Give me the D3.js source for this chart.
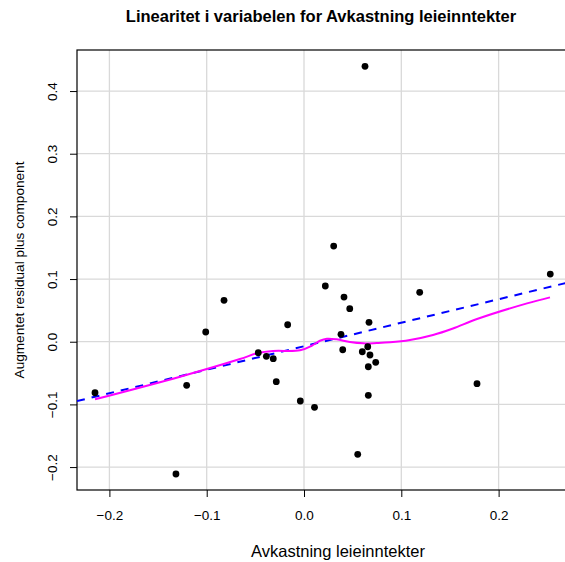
<!DOCTYPE html>
<html>
<head>
<meta charset="utf-8">
<script src="https://cdn.jsdelivr.net/npm/d3@7"></script>
<style>
  body { margin: 0; background: #fff; }
  svg { display: block; font-family: "Liberation Sans", Arial, sans-serif; }
</style>
</head>
<body>
<div id="chart"></div>
<script>
// observed points (Avkastning leieinntekter vs. augmented residual + component)
var pointX = [-0.2148, -0.1316, -0.1206, -0.1010, -0.0822, -0.0470, -0.0387, -0.0316, -0.0285, -0.0168,
              -0.0038, 0.0108, 0.0219, 0.0305, 0.0627, 0.0380, 0.0398, 0.0411, 0.0470, 0.0599,
              0.0655, 0.0678, 0.0737, 0.0661, 0.0668, 0.0661, 0.0552, 0.1189, 0.1778, 0.2531];
var pointY = [-0.0814, -0.2111, -0.0696, 0.0155, 0.0661, -0.0176, -0.0233, -0.0271, -0.0638, 0.0271,
              -0.0946, -0.1047, 0.0889, 0.1527, 0.4394, 0.0118, -0.0128, 0.0713, 0.0527, -0.0160,
              -0.0080, -0.0212, -0.0329, -0.0399, 0.0310, -0.0855, -0.1797, 0.0788, -0.0670, 0.1080];

// linear fit (blue dashed)
var fitIntercept = -0.0072;
var fitSlope = 0.375;

// smoother (magenta)
var smoothX = [-0.2148, -0.1274, -0.0658, -0.0473, -0.0319, -0.0041, 0.0079, 0.0164, 0.0236, 0.0336,
               0.0473, 0.0609, 0.0747, 0.0884, 0.1089, 0.1326, 0.1531, 0.1778, 0.2292, 0.2528];
var smoothY = [-0.0919, -0.0558, -0.0276, -0.0180, -0.0148, -0.0137, -0.0064, 0.0016, 0.0048, 0.0038,
               -0.0005, -0.0026, -0.0021, -0.0010, 0.0027, 0.0107, 0.0211, 0.0362, 0.0612, 0.0708];

var xTicks = [-0.2, -0.1, 0.0, 0.1, 0.2];
var yTicks = [-0.2, -0.1, 0.0, 0.1, 0.2, 0.3, 0.4];

var svgWidth = 565;
var svgHeight = 562;
var plot = { left: 77, top: 50, right: 600, bottom: 490 };

var svg = d3.select("#chart")
            .append("svg")
            .attr("width", svgWidth)
            .attr("height", svgHeight);

var xScale = d3.scaleLinear()
    .domain([-0.2333, 0.3042])
    .range([plot.left, plot.right]);

var yScale = d3.scaleLinear()
    .domain([-0.2366, 0.4655])
    .range([plot.bottom, plot.top]);

svg.append("clipPath")
    .attr("id", "plotClip")
    .append("rect")
    .attr("x", plot.left)
    .attr("y", plot.top)
    .attr("width", plot.right - plot.left)
    .attr("height", plot.bottom - plot.top);

// grid
var grid = svg.append("g").attr("clip-path", "url(#plotClip)");
grid.selectAll(".vgrid")
    .data(xTicks)
    .enter()
    .append("line")
    .attr("x1", d => xScale(d)).attr("x2", d => xScale(d))
    .attr("y1", plot.top).attr("y2", plot.bottom)
    .attr("stroke", "#d9d9d9")
    .attr("stroke-width", 1.3);
grid.selectAll(".hgrid")
    .data(yTicks)
    .enter()
    .append("line")
    .attr("x1", plot.left).attr("x2", plot.right)
    .attr("y1", d => yScale(d)).attr("y2", d => yScale(d))
    .attr("stroke", "#d9d9d9")
    .attr("stroke-width", 1.3);

// box
svg.append("rect")
    .attr("x", plot.left)
    .attr("y", plot.top)
    .attr("width", plot.right - plot.left)
    .attr("height", plot.bottom - plot.top)
    .attr("fill", "none")
    .attr("stroke", "#000")
    .attr("stroke-width", 1.2);

// axes
var fmt = d => d3.format(".1f")(d).replace("-", "\u2013");

var bottomAxis = d3.axisBottom(xScale)
    .tickValues(xTicks)
    .tickSize(7)
    .tickPadding(13)
    .tickFormat(fmt);
var xAxisG = svg.append("g")
    .attr("transform", `translate(0, ${plot.bottom})`)
    .call(bottomAxis);
xAxisG.select(".domain").remove();

var leftAxis = d3.axisLeft(yScale)
    .tickValues(yTicks)
    .tickSize(7)
    .tickFormat(fmt);
var yAxisG = svg.append("g")
    .attr("transform", `translate(${plot.left}, 0)`)
    .call(leftAxis);
yAxisG.select(".domain").remove();
// R style: y tick labels run parallel to the axis
yAxisG.selectAll("text")
    .attr("x", 0)
    .attr("y", 0)
    .attr("dy", null)
    .attr("text-anchor", "middle")
    .attr("dominant-baseline", "central")
    .attr("transform", "translate(-24.5, 0) rotate(-90)");

svg.selectAll(".tick text")
    .attr("font-family", "Liberation Sans, Arial, sans-serif")
    .attr("font-size", "13.5px")
    .attr("fill", "#000");
svg.selectAll(".tick line").attr("stroke", "#000");

// lines and points clipped to plot area
var marks = svg.append("g").attr("clip-path", "url(#plotClip)");

var xd = xScale.domain();
marks.append("line")
    .attr("x1", xScale(xd[0]))
    .attr("y1", yScale(fitIntercept + fitSlope * xd[0]))
    .attr("x2", xScale(xd[1]))
    .attr("y2", yScale(fitIntercept + fitSlope * xd[1]))
    .attr("stroke", "#0000ff")
    .attr("stroke-width", 2)
    .attr("stroke-dasharray", "8,7");

var smoothLine = d3.line()
    .x((d, i) => xScale(smoothX[i]))
    .y((d, i) => yScale(smoothY[i]))
    .curve(d3.curveCatmullRom.alpha(0.5));

marks.append("path")
    .datum(smoothX)
    .attr("d", smoothLine)
    .attr("fill", "none")
    .attr("stroke", "#ff00ff")
    .attr("stroke-width", 2);

marks.selectAll("circle")
    .data(pointX)
    .enter()
    .append("circle")
    .attr("cx", d => xScale(d))
    .attr("cy", (d, i) => yScale(pointY[i]))
    .attr("r", 3.4)
    .attr("fill", "#000");

// titles
svg.append("text")
    .attr("x", 321)
    .attr("y", 22)
    .attr("text-anchor", "middle")
    .attr("font-size", "16.5px")
    .attr("font-weight", "bold")
    .text("Linearitet i variabelen for Avkastning leieinntekter");

svg.append("text")
    .attr("x", 338)
    .attr("y", 557)
    .attr("text-anchor", "middle")
    .attr("font-size", "16.5px")
    .text("Avkastning leieinntekter");

svg.append("text")
    .attr("transform", "translate(24, 270) rotate(-90)")
    .attr("text-anchor", "middle")
    .attr("font-size", "13.6px")
    .text("Augmentet residual plus component");
</script>
</body>
</html>
